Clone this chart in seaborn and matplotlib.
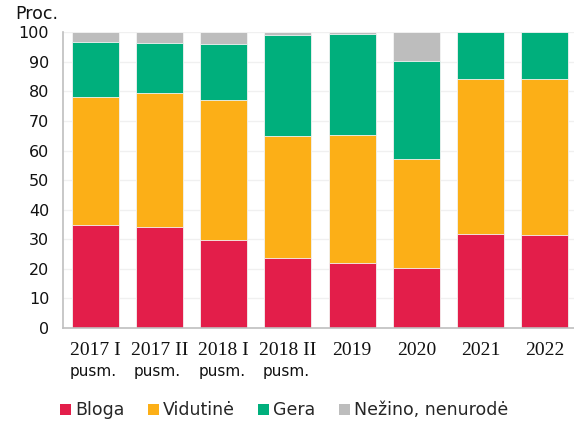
import matplotlib
matplotlib.use("Agg")
import matplotlib.pyplot as plt
import matplotlib.transforms as mtransforms
from matplotlib.patches import Patch
import numpy as np
import pandas as pd
import seaborn as sns

# Data (percent)
periods = ["2017 I", "2017 II", "2018 I", "2018 II", "2019", "2020", "2021", "2022"]
sublabels = ["pusm.", "pusm.", "pusm.", "pusm.", "", "", "", ""]
bloga = [34.8, 34.1, 29.7, 23.7, 22.0, 20.2, 31.8, 31.5]
vidutine = [43.3, 45.4, 47.4, 41.1, 43.3, 36.9, 52.4, 52.7]
gera = [18.8, 17.0, 19.0, 34.5, 34.3, 33.2, 15.8, 15.8]
nezino = [3.1, 3.5, 3.9, 0.7, 0.4, 9.7, 0.0, 0.0]

series = ["Bloga", "Vidutinė", "Gera", "Nežino, nenurodė"]
colors = ["#E31E4A", "#FCAF17", "#00AF7C", "#BDBDBD"]

df = pd.DataFrame({"period": periods, "Bloga": bloga, "Vidutinė": vidutine,
                   "Gera": gera, "Nežino, nenurodė": nezino})
cum = df[series].cumsum(axis=1)

sns.set_style("white")
plt.rcParams["font.family"] = ["DejaVu Sans"]

fig = plt.figure(figsize=(5.74, 4.23), dpi=100)
ax = fig.add_axes([0.1098, 0.2253, 0.8955, 0.698])

# stacked bars: draw cumulative totals from the top series down
for name, col in zip(reversed(series), reversed(colors)):
    sns.barplot(x=df["period"], y=cum[name], color=col, saturation=1, width=0.73,
                edgecolor="#F4F4F4", linewidth=0.6, ax=ax, zorder=2)

ax.set_ylim(0, 100)
ax.set_xlim(-0.5, 7.5)
ax.set_yticks(range(0, 101, 10))
ax.yaxis.grid(True, color="#F0F0F0", linewidth=1, zorder=0)
ax.set_axisbelow(True)
ax.set_xlabel("")
ax.set_ylabel("")

for s in ["top", "right"]:
    ax.spines[s].set_visible(False)
for s in ["left", "bottom"]:
    ax.spines[s].set_color("#BFBFBF")
    ax.spines[s].set_linewidth(1.2)

ax.tick_params(axis="y", length=0, pad=10, labelsize=11.5, labelcolor="#111111")
ax.tick_params(axis="x", length=0, pad=10)
ax.set_xticks(range(len(periods)))
ax.set_xticklabels(periods, fontfamily="Liberation Serif", fontsize=14, color="#111111")

# second line of the x labels
trans = mtransforms.blended_transform_factory(ax.transData, ax.transAxes)
for i, lab in enumerate(sublabels):
    if lab:
        ax.text(i - 0.03, -0.124, lab, transform=trans, ha="center", va="top",
                fontsize=11, color="#111111")

fig.text(0.026, 0.988, "Proc.", ha="left", va="top", fontsize=12.5, color="#111111")

handles = [Patch(facecolor=c, edgecolor="none") for c in colors]
fig.legend(handles, series, loc="center", bbox_to_anchor=(0.495, 0.03), ncol=4,
           frameon=False, fontsize=12.5, handlelength=0.63, handleheight=0.63,
           handletextpad=0.23, columnspacing=1.35)

fig.savefig("out.png", dpi=100)
